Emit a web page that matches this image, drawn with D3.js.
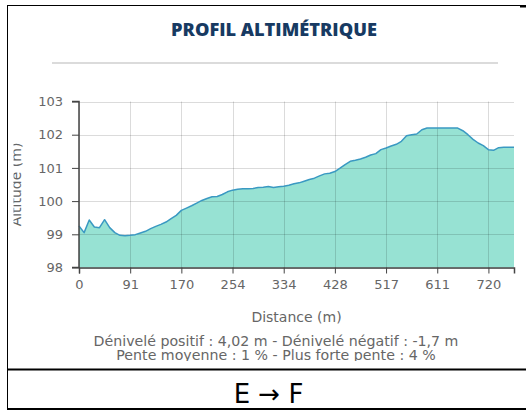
<!DOCTYPE html>
<html>
<head>
<meta charset="utf-8">
<script src="https://cdn.jsdelivr.net/npm/d3@7/dist/d3.min.js"></script>
<style>
  html, body { margin: 0; padding: 0; background: #fff; }
  svg { display: block; }
</style>
</head>
<body>
<svg id="chart" width="526" height="410"></svg>
<script>
// ---- Data ----
const titleText = "PROFIL ALTIMÉTRIQUE";
const altitudes = [
  99.25, 99.05, 99.43, 99.22, 99.20, 99.44, 99.20, 99.05, 98.97, 98.96,
  98.97, 98.99, 99.04, 99.09, 99.17, 99.24, 99.30, 99.37, 99.47, 99.57,
  99.72, 99.79, 99.86, 99.94, 100.02, 100.08, 100.13, 100.14, 100.20, 100.28,
  100.33, 100.36, 100.37, 100.37, 100.38, 100.41, 100.42, 100.44, 100.41, 100.43,
  100.45, 100.48, 100.52, 100.55, 100.60, 100.65, 100.69, 100.76, 100.82, 100.84,
  100.89, 100.99, 101.10, 101.20, 101.23, 101.27, 101.32, 101.39, 101.43, 101.55,
  101.60, 101.66, 101.71, 101.80, 101.97, 102.00, 102.02, 102.15, 102.20, 102.20,
  102.20, 102.20, 102.20, 102.20, 102.20, 102.12, 102.00, 101.86, 101.75, 101.67,
  101.55, 101.53, 101.61, 101.62, 101.62, 101.62
];
const xTickIndices = [0, 10, 20, 30, 40, 50, 60, 70, 80];
const xTickLabels = ["0", "91", "170", "254", "334", "428", "517", "611", "720"];
const yTicks = [98, 99, 100, 101, 102, 103];
const xTitle = "Distance (m)";
const yTitle = "Altitude (m)";
const statsLines = [
  "Dénivelé positif : 4,02 m - Dénivelé négatif : -1,7 m",
  "Pente moyenne : 1 % - Plus forte pente : 4 %"
];
const caption = "E → F";

// ---- Layout ----
const svg = d3.select("#chart");
const defs = svg.append("defs");
const plot = { left: 79, right: 514, top: 101.5, bottom: 267.5 };
const font = "'DejaVu Sans', Verdana, sans-serif";

const x = d3.scaleLinear().domain([0, altitudes.length - 1]).range([plot.left, plot.right]);
const y = d3.scaleLinear().domain([98, 103]).range([plot.bottom, plot.top]);

// frame
svg.append("line").attr("x1", 8).attr("x2", 526).attr("y1", 5.5).attr("y2", 5.5)
  .attr("stroke", "#000").attr("stroke-width", 1);
svg.append("rect").attr("x", 520).attr("y", 5).attr("width", 6).attr("height", 2.5).attr("fill", "#000");
svg.append("line").attr("x1", 7.5).attr("x2", 7.5).attr("y1", 5).attr("y2", 410)
  .attr("stroke", "#000").attr("stroke-width", 1);
svg.append("line").attr("x1", 7).attr("x2", 526).attr("y1", 369.5).attr("y2", 369.5)
  .attr("stroke", "#000").attr("stroke-width", 2);
svg.append("line").attr("x1", 7).attr("x2", 526).attr("y1", 409).attr("y2", 409)
  .attr("stroke", "#000").attr("stroke-width", 2);

// title
svg.append("text").attr("x", 274).attr("y", 35.5).attr("text-anchor", "middle")
  .attr("font-family", "'Open Sans', sans-serif").attr("font-weight", 800)
  .attr("font-size", 18.2).attr("fill", "#173a62").text(titleText);
svg.append("line").attr("x1", 52).attr("x2", 498).attr("y1", 63).attr("y2", 63)
  .attr("stroke", "#cfcfcf").attr("stroke-width", 1.5);

// area + line
const area = d3.area().x((d, i) => x(i)).y0(plot.bottom).y1(d => y(d));
const line = d3.line().x((d, i) => x(i)).y(d => y(d));
svg.append("path").datum(altitudes).attr("d", area).attr("fill", "#97e2d3");

// grid on top (semi-transparent)
const grid = svg.append("g").attr("stroke", "rgba(0,0,0,0.14)").attr("stroke-width", 1);
yTicks.forEach(v => {
  grid.append("line").attr("x1", plot.left).attr("x2", plot.right)
    .attr("y1", Math.round(y(v)) + 0.5).attr("y2", Math.round(y(v)) + 0.5);
});
xTickIndices.forEach(v => {
  grid.append("line").attr("x1", Math.round(x(v)) + 0.5).attr("x2", Math.round(x(v)) + 0.5)
    .attr("y1", plot.top).attr("y2", plot.bottom);
});

svg.append("path").datum(altitudes).attr("d", line).attr("fill", "none")
  .attr("stroke", "#3a99c2").attr("stroke-width", 1.5).attr("stroke-linejoin", "round");

// axes
const yAxis = svg.append("g").attr("transform", `translate(${plot.left},0)`)
  .call(d3.axisLeft(y).tickValues(yTicks).tickSize(7).tickPadding(9).tickFormat(d3.format("d")));
const xAxis = svg.append("g").attr("transform", `translate(0,${plot.bottom})`)
  .call(d3.axisBottom(x).tickValues(xTickIndices).tickSize(6).tickPadding(6)
    .tickFormat((d, i) => xTickLabels[i]));
[yAxis, xAxis].forEach(g => {
  g.select(".domain").attr("stroke", "#444").attr("stroke-width", 1.5);
  g.selectAll(".tick line").attr("stroke", "#444");
  g.selectAll(".tick text").attr("fill", "#666").attr("font-family", font).attr("font-size", 13);
});
yAxis.select(".domain").attr("d", `M-7,${plot.top}H0V${plot.bottom}H-7`);

// axis titles
defs.append("clipPath").attr("id", "leftclip")
  .append("rect").attr("x", 13.5).attr("y", 0).attr("width", 520).attr("height", 410);
svg.append("g").attr("clip-path", "url(#leftclip)")
  .append("text")
  .attr("transform", `translate(21,${(plot.top + plot.bottom) / 2}) rotate(-90)`)
  .attr("text-anchor", "middle").attr("font-family", font).attr("font-size", 14)
  .attr("fill", "#666").text(yTitle);
svg.append("text").attr("x", (plot.left + plot.right) / 2).attr("y", 322)
  .attr("text-anchor", "middle").attr("font-family", font).attr("font-size", 14)
  .attr("fill", "#666").text(xTitle);

// stats
defs.append("clipPath").attr("id", "statsclip")
  .append("rect").attr("x", 0).attr("y", 325).attr("width", 526).attr("height", 36);
const stats = svg.append("g").attr("clip-path", "url(#statsclip)");
statsLines.forEach((t, i) => {
  stats.append("text").attr("x", 276).attr("y", 346 + i * 13.5).attr("text-anchor", "middle")
    .attr("font-family", font).attr("font-size", 14.2).attr("fill", "#666").text(t);
});

// caption
svg.append("text").attr("x", 268.5).attr("y", 402.5).attr("text-anchor", "middle")
  .attr("font-family", font).attr("font-size", 26).attr("fill", "#000").text(caption);
</script>
</body>
</html>
